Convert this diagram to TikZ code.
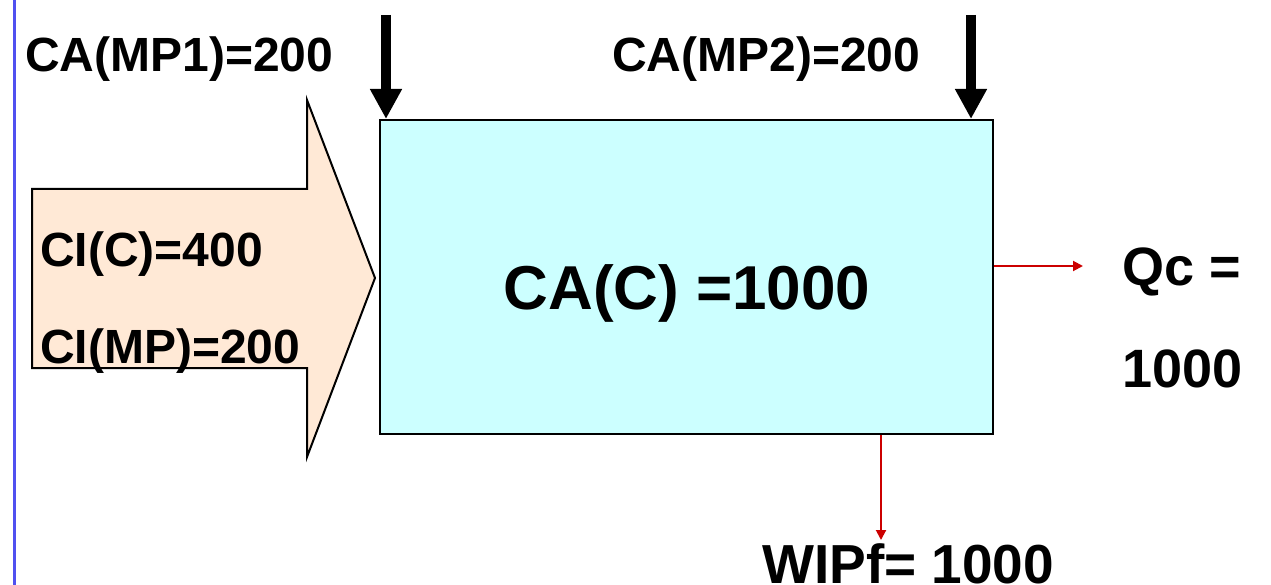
\documentclass[tikz,border=0pt]{standalone}
\usepackage{fontspec}
\setmainfont{Liberation Sans}
\usetikzlibrary{arrows.meta}
\definecolor{boxfill}{RGB}{204,255,255}
\definecolor{peach}{RGB}{255,233,214}
\definecolor{darkred}{RGB}{204,0,0}
\definecolor{sideblue}{RGB}{80,80,240}
\tikzset{
  lbl/.style={inner sep=0pt, font=\fontsize{48}{58}\selectfont\bfseries},
  bigarrow/.style={line width=10pt, -{Triangle[width=30pt,length=30pt]}},
  redarrow/.style={draw=darkred, line width=2pt, -{Triangle[width=10pt,length=10pt]}, darkred},
}
\begin{document}
\begin{tikzpicture}[x=1pt,y=-1pt]
\useasboundingbox (0,0) rectangle (1271,585);
% left blue rule
\draw[sideblue, line width=3pt] (14,0) -- (14,585);
% peach block arrow
\draw[fill=peach, line width=2pt, line join=miter]
  (32,189) -- (307,189) -- (307,100) -- (375,278) -- (307,457) -- (307,368) -- (32,368) -- cycle;
% main box
\node[draw, line width=2pt, fill=boxfill, minimum width=613pt, minimum height=314pt, inner sep=0pt]
  (box) at (686.5,277) {};
\node[lbl, font=\fontsize{62}{70}\selectfont\bfseries] (cac) at (687,293) {CA(C) =1000};
% labels
\node[lbl, anchor=base west] (mp1) at (25,72) {CA(MP1)=200};
\node[lbl, anchor=base west] (mp2) at (612,72) {CA(MP2)=200};
\node[lbl, anchor=base west] (cic) at (40,267) {CI(C)=400};
\node[lbl, anchor=base west] (cimp) at (40,363) {CI(MP)=200};
\node[lbl, font=\fontsize{54}{60}\selectfont\bfseries, anchor=base west] (qc) at (1122,285) {Qc =};
\node[lbl, font=\fontsize{54}{60}\selectfont\bfseries, anchor=base west] (qv) at (1122,387) {1000};
\node[lbl, font=\fontsize{55}{60}\selectfont\bfseries, anchor=base west] (wip) at (762,583) {WIPf= 1000};
% black input arrows
\coordinate (a1) at (386,15);
\coordinate (a2) at (971,15);
\draw[bigarrow] (a1) -- (a1 |- box.north);
\draw[bigarrow] (a2) -- (a2 |- box.north);
% red output arrows
\coordinate (q) at (1083,266);
\coordinate (w) at (881,540);
\draw[redarrow] (q -| box.east) -- (q);
\draw[redarrow] (w |- box.south) -- (w);
\end{tikzpicture}
\end{document}
